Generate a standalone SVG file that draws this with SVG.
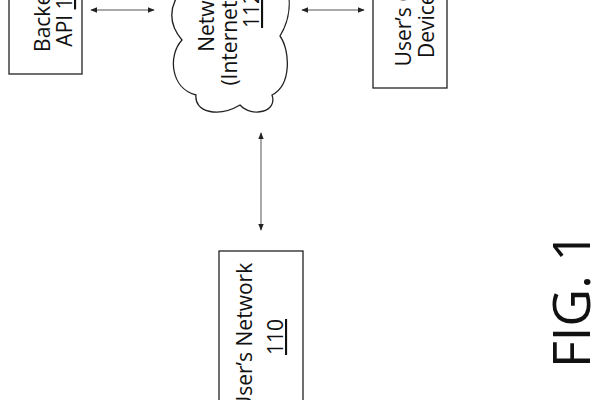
<svg xmlns="http://www.w3.org/2000/svg" width="600" height="400" viewBox="0 0 600 400">
<style>
.b{fill:#fff;stroke:#222;stroke-width:1.3}
.t{font-family:"Open Sans","Liberation Sans",sans-serif;font-size:21px;fill:#111;text-anchor:middle}
.c{stroke:#555;stroke-width:1;fill:none;marker-start:url(#a);marker-end:url(#a)}
</style>
<defs><marker id="a" viewBox="0 0 10 10" refX="9" refY="5" markerWidth="7" markerHeight="7" orient="auto-start-reverse"><path d="M0,1 L10,5 L0,9z" fill="#222"/></marker></defs>
<rect width="600" height="400" fill="#fff"/>
<g id="connectors">
<line class="c" x1="91" y1="10" x2="154" y2="10"/>
<line class="c" x1="302" y1="10" x2="364" y2="10"/>
<line class="c" x1="261" y1="133" x2="261" y2="230"/>
</g>
<g id="backend">
<rect class="b" x="9" y="-60" width="73" height="134"/>
<text class="t" transform="translate(50,10) rotate(-90)">Backend</text>
<text class="t" transform="translate(72,10) rotate(-90)">API <tspan text-decoration="underline">114</tspan></text>
</g>
<g id="network">
<path class="b" d="M190,-20 C170,0 165,20 182,40 C168,55 170,88 196,95 C194,112 218,118 240,105 C252,118 278,112 272,95 C292,85 290,50 280,36 C290,20 292,0 285,-20 Z"/>
<text class="t" transform="translate(214,10) rotate(-90)">Network</text>
<text class="t" transform="translate(237,40) rotate(-90)">(Internet)</text>
<text class="t" transform="translate(259,10) rotate(-90)"><tspan text-decoration="underline">112</tspan></text>
</g>
<g id="device">
<rect class="b" x="373" y="-60" width="74" height="148"/>
<text class="t" transform="translate(411,-20) rotate(-90)">User’s Computing</text>
<text class="t" transform="translate(434,5) rotate(-90)">Device <tspan text-decoration="underline">116</tspan></text>
</g>
<g id="usernet">
<rect class="b" x="219" y="251" width="84" height="170"/>
<text class="t" transform="translate(252,337) rotate(-90)">User’s Network</text>
<text class="t" transform="translate(283,337) rotate(-90)"><tspan text-decoration="underline">110</tspan></text>
</g>
<text transform="translate(590,300) rotate(-90)" style="font-family:'Open Sans','Liberation Sans',sans-serif;font-size:52px;fill:#111;text-anchor:middle">FIG. 1</text>
</svg>
